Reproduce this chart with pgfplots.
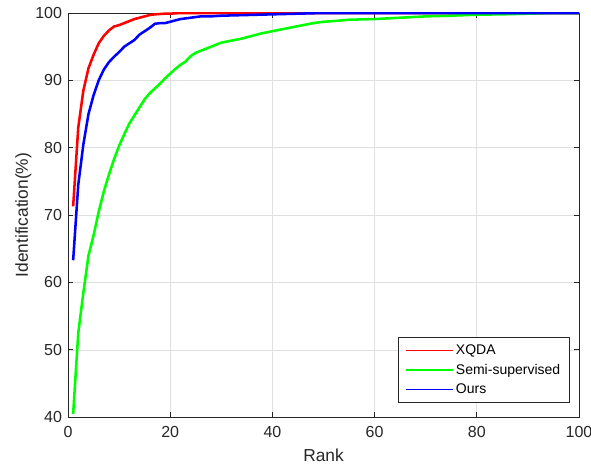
\documentclass[border=0pt]{standalone}
\usepackage{pgfplots}
\pgfplotsset{compat=1.18}
\usepackage{fontspec}
\setmainfont{Liberation Sans}
\usetikzlibrary{calc}
\definecolor{axgray}{gray}{0.15}
\definecolor{gridgray}{gray}{0.88}
\definecolor{mred}{rgb}{1,0,0}
\definecolor{mgreen}{rgb}{0,1,0}
\definecolor{mblue}{rgb}{0,0,1}

\begin{document}
\begin{tikzpicture}
\begin{axis}[
  name=ax,
  scale only axis,
  width=383pt, height=303pt,
  xmin=0, xmax=100, ymin=40, ymax=100,
  xtick={0,20,...,100}, ytick={40,50,...,100},
  xlabel={Rank}, ylabel={Identification(\%)},
  every tick label/.append style={font=\fontsize{12}{14}\selectfont, text=axgray},
  /pgf/number format/assume math mode=true,
  label style={font=\fontsize{13}{15}\selectfont, text=axgray},
  xlabel style={yshift=-2pt},
  ylabel style={yshift=-4pt},
  xticklabel style={yshift=-3pt},
  yticklabel style={xshift=-1pt},
  axis line style={axgray, line width=0.6pt},
  tick style={axgray, line width=0.6pt},
  tick align=inside,
  major tick length=4pt,
  grid=major,
  grid style={gridgray, line width=0.5pt},
  legend style={at={(1,0)}, anchor=south east, xshift=-6.75pt, yshift=10.5pt,
    draw=axgray, line width=0.6pt,
    font=\fontsize{10.5}{12}\selectfont, row sep=1.6pt,
    inner xsep=5pt, inner ysep=3.5pt},
  legend cell align=left,
  legend image code/.code={\draw[#1, line width=1pt] (0pt,0pt) -- (35pt,0pt);},
]
\addplot[draw=mred, line width=1.9pt] coordinates {
(1,71.3) (2,83.0) (3,88.5) (4,91.8) (5,93.8) (6,95.5) (7,96.6) (8,97.4) (9,98.0)
(10,98.2) (11,98.5) (12,98.8) (13,99.1) (14,99.3) (15,99.5) (16,99.7) (17,99.8)
(18,99.85) (19,99.9) (20,99.9) (22,100) (30,100) (50,100) (100,100)
};
\addlegendentry{XQDA}
\addplot[draw=mgreen, line width=1.9pt] coordinates {
(1,40.5) (2,52.5) (3,58.5) (4,64.0) (5,67.0) (6,70.5) (7,73.5) (8,76.0) (9,78.3)
(10,80.3) (11,82.0) (12,83.6) (13,84.8) (14,86.0) (15,87.2) (16,88.1) (17,88.8)
(18,89.5) (19,90.3) (20,91.0) (21,91.7) (22,92.3) (23,92.8) (24,93.6) (25,94.1)
(26,94.4) (27,94.7) (28,95.0) (29,95.3) (30,95.6) (32,95.9) (34,96.2) (36,96.6)
(38,97.0) (40,97.3) (42,97.6) (44,97.9) (46,98.2) (48,98.5) (50,98.7) (52,98.8)
(55,99.0) (60,99.1) (65,99.3) (70,99.5) (75,99.6) (80,99.75) (85,99.8) (90,99.9)
(95,100) (100,100)
};
\addlegendentry{Semi-supervised}
\addplot[draw=mblue, line width=1.9pt] coordinates {
(1,63.3) (2,74.5) (3,80.5) (4,85.0) (5,87.8) (6,90.0) (7,91.6) (8,92.7) (9,93.5)
(10,94.2) (11,95.0) (12,95.5) (13,96.0) (14,96.8) (15,97.3) (16,97.8) (17,98.4)
(18,98.5) (19,98.5) (20,98.7) (21,98.9) (22,99.1) (23,99.2) (24,99.3) (25,99.4)
(26,99.5) (28,99.5) (30,99.6) (35,99.7) (40,99.8) (45,99.9) (50,100) (100,100)
};
\addlegendentry{Ours}
\end{axis}
\pgfresetboundingbox
\path ($(ax.south west)+(-51pt,-35.25pt)$) rectangle ($(ax.north east)+(9pt,9.75pt)$);
\end{tikzpicture}
\end{document}
